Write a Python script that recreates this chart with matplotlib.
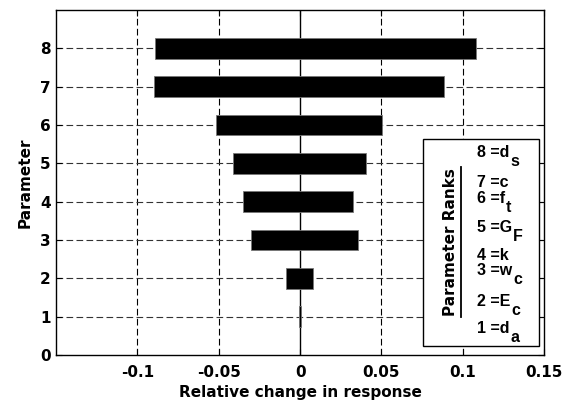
import numpy as np
import matplotlib
matplotlib.use("Agg")
import matplotlib.pyplot as plt
from matplotlib.patches import Rectangle

plt.rcParams['font.family'] = ['DejaVu Sans']
plt.rcParams['font.weight'] = 'bold'

# tornado data: parameter rank, low / high relative change
params = [1, 2, 3, 4, 5, 6, 7, 8]
low = [-0.0006, -0.0088, -0.030, -0.035, -0.0415, -0.0517, -0.0898, -0.089]
high = [0.0006, 0.0077, 0.0354, 0.0327, 0.0405, 0.0505, 0.0885, 0.108]

rank_nums = ['8', '7', '6', '5', '4', '3', '2', '1']
rank_names = ['d', 'c', 'f', 'G', 'k', 'w', 'E', 'd']
rank_subs = ['s', '', 't', 'F', '', 'c', 'c', 'a']

xticks = [-0.1, -0.05, 0, 0.05, 0.1, 0.15]
xticklabels = ['-0.1', '-0.05', '0', '0.05', '0.1', '0.15']

fig = plt.figure(figsize=(5.74, 4.04), dpi=100)
ax = fig.add_axes([0.0976, 0.1213, 0.8504, 0.8537])

low = np.array(low)
high = np.array(high)
ax.barh(params, high - low, left=low, height=0.54, color='black',
        edgecolor='#777777', linewidth=0.6, zorder=3)

ax.set_xlim(-0.15, 0.15)
ax.set_ylim(0, 9)
ax.set_xticks(xticks)
ax.set_xticklabels(xticklabels)
ax.set_yticks(range(0, 9))

# grid: dashed except solid zero line
for x in xticks:
    if x == 0:
        ax.axvline(0, color='black', lw=1.0, zorder=2)
    elif abs(x) < 0.15:
        ax.axvline(x, color='black', lw=0.8, ls=(0, (6, 3)), zorder=1)
for y in params:
    ax.axhline(y, color='#333333', lw=0.8, ls=(0, (6, 3)), zorder=1)

ax.tick_params(direction='in', length=4, width=0.8, top=True, right=True,
               labelsize=11)
ax.tick_params(axis='x', pad=7)
ax.tick_params(axis='y', pad=4)
for lab in ax.get_xticklabels() + ax.get_yticklabels():
    lab.set_fontweight('bold')
for s in ax.spines.values():
    s.set_linewidth(1.0)

ax.set_xlabel('Relative change in response', fontsize=11, fontweight='bold', labelpad=4)
ax.set_ylabel('Parameter', fontsize=11, fontweight='bold', labelpad=5)

# legend box with parameter ranks
leg_font = ['Liberation Sans', 'DejaVu Sans']
ax.add_patch(Rectangle((0.0754, 0.24), 0.0712, 5.40, facecolor='white',
                       edgecolor='black', lw=1.0, zorder=4))
ax.text(0.0925, 2.95, 'Parameter Ranks', rotation=90, ha='center', va='center',
        fontsize=11, fontweight='bold', zorder=5)
ax.plot([0.0991, 0.0991], [0.99, 4.91], color='black', lw=1.3, zorder=5)

ys = [5.17, 4.39, 3.96, 3.22, 2.48, 2.09, 1.28, 0.57]
for num, name, sub, y in zip(rank_nums, rank_names, rank_subs, ys):
    t = ax.text(0.1085, y, num + ' =' + name, ha='left', va='baseline',
                family=leg_font, fontsize=11.5, fontweight='bold', zorder=5)
    if sub:
        ax.annotate(sub, xy=(1, 0), xycoords=t, xytext=(0.8, -4.3),
                    textcoords='offset points', ha='left', va='baseline',
                    family=leg_font, fontsize=11.5, fontweight='bold', zorder=5)

fig.savefig('out.png', dpi=100)
